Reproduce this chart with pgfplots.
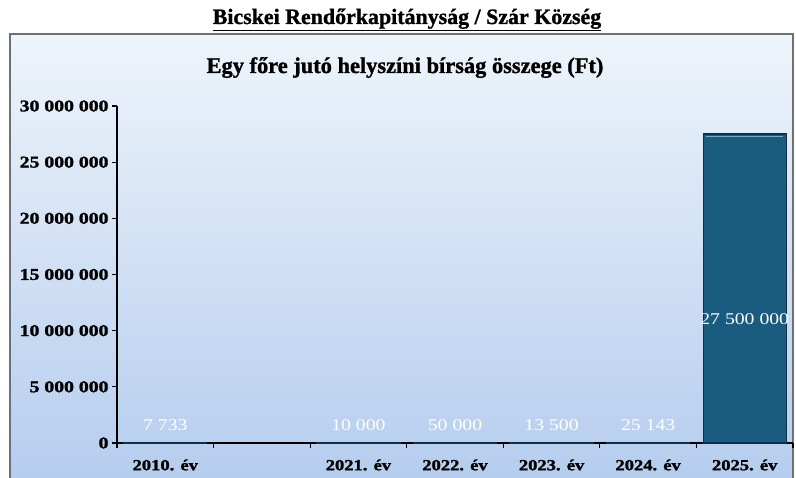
\documentclass[border=0pt]{standalone}
\usepackage{pgfplots}
\pgfplotsset{compat=1.18}
\usepackage{fontspec}
\setmainfont{Liberation Serif}[BoldFeatures={FakeBold=1.2}]
\newfontfamily\widefont{Liberation Serif}[FakeStretch=1.2, BoldFeatures={FakeBold=1.6}]
\definecolor{bgtop}{HTML}{EEF4FB}
\definecolor{bgbot}{HTML}{B5CDEE}
\definecolor{barfill}{HTML}{1A5B80}
\definecolor{baredge}{HTML}{0D3048}
\definecolor{framegray}{HTML}{707070}
\tikzset{vlab/.style={text=white, font=\widefont\fontsize{16.5}{18}\selectfont}}

\begin{document}
\begin{tikzpicture}[x=1bp,y=1bp]
\useasboundingbox (0,0) rectangle (796,478);
% frame with the blue wash behind the chart
\shade[top color=bgtop, bottom color=bgbot] (10,0) rectangle (793,444);
\draw[framegray, line width=1.6bp] (10,0) -- (10,444) -- (793,444) -- (793,0);
% titles
\node[font=\bfseries\fontsize{22}{24}\selectfont, anchor=base] at (407,454)
  {\underline{Bicskei Rendőrkapitányság / Szár Község}};
\node[font=\bfseries\fontsize{22.5}{24}\selectfont, anchor=base] at (405,405)
  {Egy főre jutó helyszíni bírság összege (Ft)};
\begin{axis}[
  at={(117bp,35bp)}, anchor=south west,
  scale only axis, width=676bp, height=337bp,
  xmin=-0.5, xmax=6.5, ymin=0, ymax=30000000,
  axis x line=bottom, axis y line=left,
  axis line style={black, line width=1.4bp, -},
  xtick={0,...,6},
  xticklabels={2010. év,,2021. év,2022. év,2023. év,2024. év,2025. év},
  major x tick style={draw=none},
  minor xtick={-0.5,0.5,...,6.5},
  minor x tick style={black, line width=1.2bp},
  minor tick length=5bp,
  x tick label style={font=\widefont\bfseries\fontsize{15.5}{17}\selectfont, yshift=-8bp},
  scaled y ticks=false,
  ytick={0,5000000,10000000,15000000,20000000,25000000,30000000},
  yticklabels={0,5 000 000,10 000 000,15 000 000,20 000 000,25 000 000,30 000 000},
  y tick label style={font=\widefont\bfseries\fontsize{16.5}{18}\selectfont},
  ytick style={black, line width=1.2bp},
  major tick length=5bp,
  tick align=outside,
  clip=false,
]
\addplot[ybar, bar width=0.86, fill=barfill, draw=baredge, line width=1.2bp]
  coordinates {(0,7733) (2,10000) (3,50000) (4,13500) (5,25143) (6,27500000)};
\draw[barfill!55!white, line width=1.5bp]
  (axis cs:5.6,27300000) -- (axis cs:6.4,27300000);
% value labels
\node[vlab] at (axis cs:0,1550000) {7 733};
\node[vlab] at (axis cs:2,1550000) {10 000};
\node[vlab] at (axis cs:3,1550000) {50 000};
\node[vlab] at (axis cs:4,1550000) {13 500};
\node[vlab] at (axis cs:5,1550000) {25 143};
\node[vlab] at (axis cs:6,11000000) {27 500 000};
\end{axis}
\end{tikzpicture}
\end{document}
